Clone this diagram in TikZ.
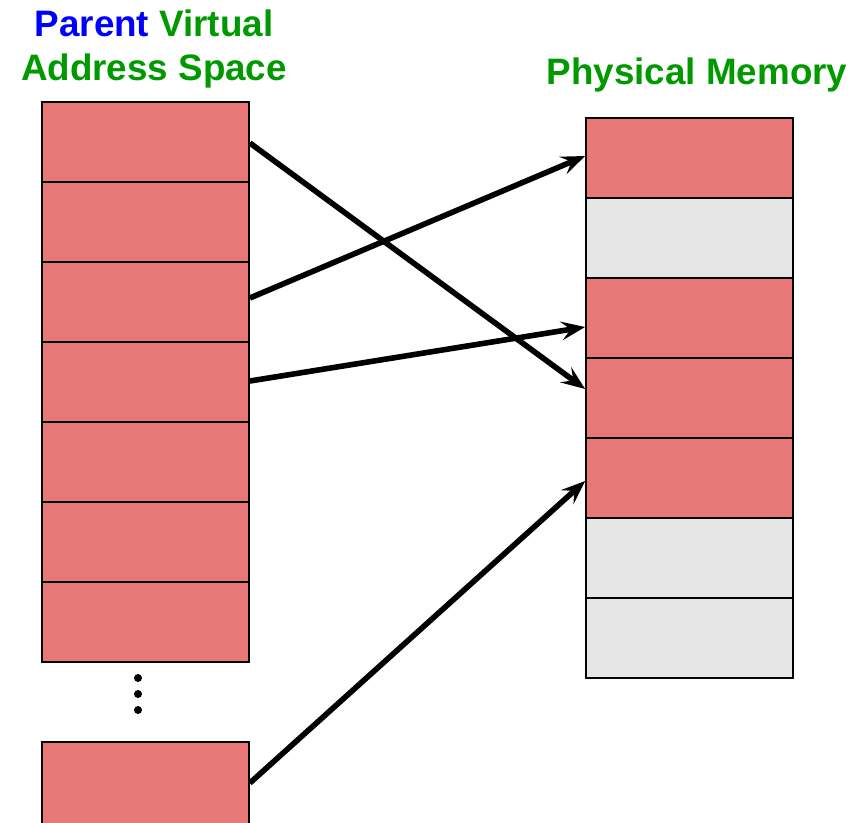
\documentclass[tikz,border=0pt]{standalone}
\usepackage{fontspec}
\setmainfont{Liberation Sans}
\usetikzlibrary{arrows.meta}
\definecolor{cellred}{HTML}{E87878}
\definecolor{cellgray}{HTML}{E6E6E6}
\definecolor{titlegreen}{HTML}{009900}
\definecolor{titleblue}{HTML}{0000FF}
\begin{document}
\begin{tikzpicture}
			[x=0.75pt,y=-0.75pt,
			cell/.style={rectangle,draw,line width=1.3pt,inner sep=0pt,minimum width=155.25pt,minimum height=60pt,fill=cellred},
			free/.style={cell,fill=cellgray},
			title/.style={inner sep=0pt,anchor=base,text=titlegreen,font=\bfseries\fontsize{27.6}{33}\selectfont},
			map/.style={-{Stealth[length=18pt,width=14pt,inset=7pt]},line width=4.2pt},>=Stealth]
			\useasboundingbox (0,0) rectangle (856,822);
			% titles
			\node[title,name=t1] at (154,36) {\textcolor{titleblue}{Parent} Virtual};
			\node[title,name=t2] at (154,80) {Address Space};
			\node[title,name=t3] at (697,84) {Physical Memory};
			% virtual pages
			\node[cell,name=v1] at (145.5,142) {};
			\node[cell,name=v2] at (145.5,222) {};
			\node[cell,name=v3] at (145.5,302) {};
			\node[cell,name=v4] at (145.5,382) {};
			\node[cell,name=v5] at (145.5,462) {};
			\node[cell,name=v6] at (145.5,542) {};
			\node[cell,name=v7] at (145.5,622) {};
			\node[cell,name=vn,minimum height=66pt] at (145.5,786) {};
			\foreach \y in {678,694,710}
				\fill (138,\y) circle (3pt);
			% physical frames
			\node[cell,name=p1] at (689.5,158) {};
			\node[free,name=p2] at (689.5,238) {};
			\node[cell,name=p3] at (689.5,318) {};
			\node[cell,name=p4] at (689.5,398) {};
			\node[cell,name=p5] at (689.5,478) {};
			\node[free,name=p6] at (689.5,558) {};
			\node[free,name=p7] at (689.5,638) {};
			% mappings
			\draw[map]([yshift=-0.75pt]v1.east)--([yshift=6.75pt]p4.west);
			\draw[map]([yshift=3pt]v3.east)--([yshift=1.5pt]p1.west);
			\draw[map]([yshift=0.75pt]v4.east)--([yshift=-6.75pt]p3.west);
			\draw[map]([yshift=2.25pt]vn.east)--([yshift=-2.25pt]p5.west);
		\end{tikzpicture}
\end{document}
